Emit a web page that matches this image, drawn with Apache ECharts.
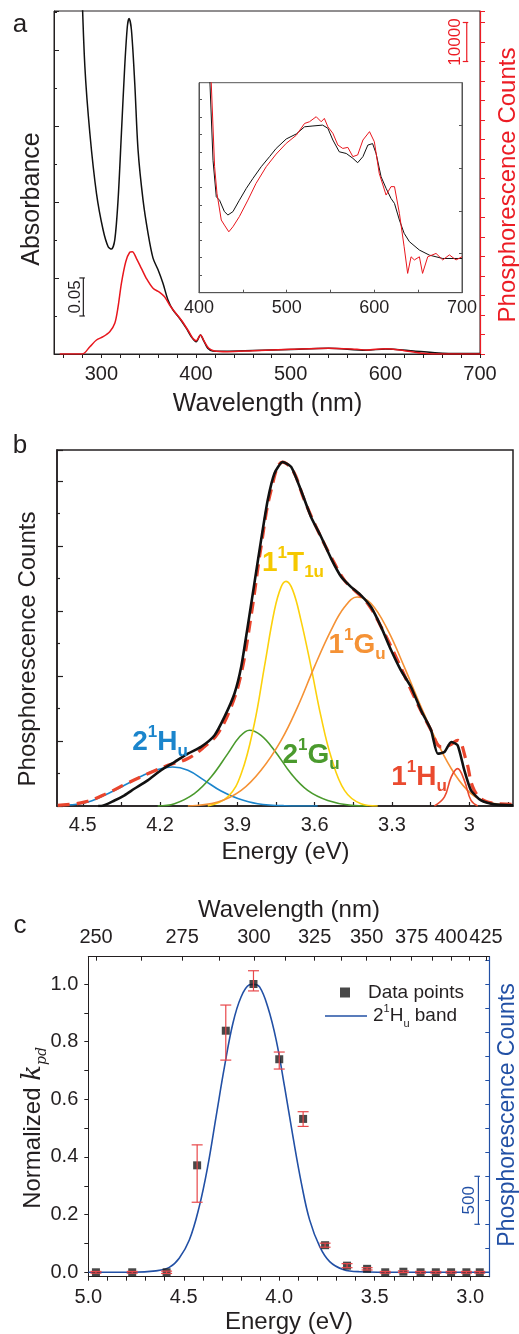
<!DOCTYPE html>
<html>
<head>
<meta charset="utf-8">
<script src="https://cdn.jsdelivr.net/npm/echarts@6/dist/echarts.min.js"></script>
<style>
  html, body { margin: 0; padding: 0; background: #fff; }
  #chart { width: 519px; height: 1334px; }
</style>
</head>
<body>
<div id="chart"></div>
<script>
// ---- panel a: absorbance (black, left) + phosphorescence (red, right) ----
const absWl = [279, 282.6, 287.9, 294.9, 301.9, 307.2, 310.7, 314.2, 317.7, 321.2, 324.7, 327.5, 329.3, 331.8, 335.3, 338.8, 344, 349.3, 354.6, 359.8, 365.1, 370.4, 375.6, 382.6, 389.7, 394.9, 400.2, 404.7, 407.9, 412.4, 417.7, 432, 460, 500, 540, 580, 600, 630, 660, 700];
const absVal = [0.5, 0.378, 0.29, 0.211, 0.163, 0.141, 0.138, 0.15, 0.203, 0.29, 0.378, 0.431, 0.441, 0.426, 0.356, 0.268, 0.203, 0.159, 0.126, 0.111, 0.093, 0.071, 0.058, 0.047, 0.034, 0.023, 0.016, 0.025, 0.018, 0.0075, 0.004, 0.0035, 0.0045, 0.006, 0.0075, 0.005, 0.0065, 0.004, 0.001, 0.0005];
const phosWl = [256, 270, 280, 287.9, 294.9, 301.9, 308.9, 314.2, 317.7, 321.2, 325.8, 330, 332.8, 337, 342.3, 347.5, 354.6, 361.6, 366.8, 372.1, 377.4, 384.4, 391.4, 396.6, 400.2, 404.7, 408.9, 413.5, 419.5, 433, 460, 500, 540, 570, 580, 600, 620, 640, 650, 700];
const phosCounts = [0, 0, 0, 1880, 3590, 4440, 5720, 7870, 12130, 18130, 23670, 26080, 26230, 24540, 21970, 19410, 16850, 15820, 14690, 12560, 10850, 8720, 6150, 4030, 3410, 4870, 3160, 1460, 770, 600, 850, 1200, 1460, 1200, 1030, 1370, 860, 170, 0, 0];

// inset (arbitrary units, 0-100)
const insetBlackWl = [412, 416, 419.7, 423.5, 429, 433, 438.7, 446, 454, 461.5, 471, 480.5, 488, 499.5, 511, 520.4, 530, 541, 547, 552.7, 560, 568, 575.5, 581, 587, 592.6, 598, 602, 607.7, 613.4, 619, 623, 628.6, 634, 640, 651.4, 662.8, 678, 700];
const insetBlackVal = [105, 63, 45.7, 44, 38.6, 37, 38.6, 44, 49.7, 54.4, 60, 64.8, 68.7, 73.2, 75.6, 79, 79.4, 79.8, 78.3, 72.7, 67.1, 66.3, 64, 61.9, 64.8, 70.3, 71, 66.3, 55.2, 49.7, 44.9, 42.5, 34.6, 28.3, 24.3, 20.3, 17.9, 16.3, 16.3];
const insetRedWl = [413.5, 417.8, 420.5, 425.4, 429, 434, 438.7, 446, 455.8, 465, 476.7, 488, 499.5, 511, 520.4, 526, 533.7, 539.4, 543, 547, 552.7, 558.4, 564, 569.8, 575.5, 581, 587, 594.5, 600, 605.6, 613.4, 619, 623, 628.6, 634, 638, 641.9, 645.7, 651.4, 655, 660.9, 670.4, 678, 685.6, 693.2, 700];
const insetRedVal = [105, 60, 47.3, 34.6, 32.2, 29, 31.4, 36.2, 44.1, 52, 60, 66, 71.1, 75, 80.6, 81.4, 83.8, 81.4, 83, 79, 75.9, 70.3, 68.7, 69.2, 64.8, 65.6, 72.7, 76.7, 71.9, 56.8, 46.5, 50.5, 50.5, 37.8, 21.9, 9.2, 17.1, 15.6, 17.1, 9.2, 17.1, 18.7, 15.6, 18, 15.6, 17.1];

// ---- panel b: spectrum vs energy and gaussian components ----
const bDataE = [4.44, 4.429, 4.377, 4.338, 4.3, 4.248, 4.196, 4.144, 4.092, 4.041, 3.989, 3.95, 3.911, 3.885, 3.86, 3.834, 3.808, 3.782, 3.756, 3.724, 3.691, 3.653, 3.614, 3.575, 3.536, 3.497, 3.459, 3.42, 3.381, 3.342, 3.303, 3.265, 3.226, 3.187, 3.148, 3.122, 3.096, 3.07, 3.045, 3.019, 2.993, 2.954, 2.902, 2.83];
const bDataV = [0, 0, 0.17, 0.33, 0.53, 0.79, 1.10, 1.35, 1.61, 1.82, 2.17, 2.74, 3.46, 4.28, 5.51, 6.84, 8.17, 9.41, 10.23, 10.58, 10.43, 9.71, 8.89, 8.28, 7.61, 7.05, 6.74, 6.48, 6.12, 5.51, 4.79, 4.17, 3.66, 2.94, 2.33, 1.61, 1.66, 1.97, 1.87, 1.10, 0.48, 0.17, 0.05, 0.02];
const fitE = [4.597, 4.494, 4.403, 4.325, 4.248, 4.17, 4.092, 4.028, 3.976, 3.924, 3.885, 3.847, 3.808, 3.769, 3.724, 3.685, 3.64, 3.588, 3.536, 3.484, 3.446, 3.394, 3.342, 3.278, 3.213, 3.148, 3.109, 3.077, 3.045, 3.012, 2.98, 2.928, 2.83];
const fitV = [0.02, 0.12, 0.40, 0.71, 0.99, 1.25, 1.46, 1.82, 2.23, 3.05, 4.07, 5.82, 7.97, 9.71, 10.58, 10.33, 9.41, 8.48, 7.66, 6.94, 6.64, 6.23, 5.51, 4.48, 3.35, 2.33, 1.82, 1.87, 2.02, 1.41, 0.48, 0.12, 0.05];
const h2E = [4.597, 4.494, 4.403, 4.325, 4.261, 4.209, 4.151, 4.092, 4.028, 3.963, 3.898, 3.821, 3.717, 3.588];
const h2V = [0.02, 0.09, 0.38, 0.69, 0.96, 1.12, 1.20, 1.10, 0.79, 0.46, 0.23, 0.07, 0.01, 0];
const g2E = [4.209, 4.144, 4.067, 4.002, 3.937, 3.892, 3.853, 3.808, 3.756, 3.691, 3.627, 3.549, 3.459, 3.394];
const g2V = [0, 0.07, 0.38, 0.89, 1.61, 2.12, 2.33, 2.17, 1.71, 0.99, 0.48, 0.17, 0.02, 0];
const t1E = [4.015, 3.937, 3.885, 3.834, 3.795, 3.756, 3.73, 3.711, 3.685, 3.653, 3.614, 3.575, 3.536, 3.484, 3.42, 3.355];
const t1V = [0, 0.28, 0.99, 2.53, 4.28, 6.02, 6.74, 6.91, 6.64, 5.71, 4.28, 2.74, 1.51, 0.48, 0.07, 0];
const g1E = [4.092, 3.976, 3.885, 3.808, 3.73, 3.666, 3.601, 3.536, 3.484, 3.435, 3.381, 3.316, 3.252, 3.187, 3.122, 3.057, 2.993, 2.928, 2.83];
const g1V = [0, 0.12, 0.48, 1.10, 2.02, 3.05, 4.28, 5.41, 6.12, 6.43, 6.23, 5.41, 4.28, 3.05, 1.92, 0.99, 0.38, 0.12, 0.02];
const h1E = [3.135, 3.096, 3.07, 3.045, 3.019, 2.993, 2.967];
const h1V = [0, 0.28, 0.89, 1.15, 0.79, 0.17, 0];

// ---- panel c: normalized k_pd vs energy, 2(1)Hu band ----
const kpdEnergy = [4.96, 4.77, 4.59, 4.43, 4.28, 4.135, 4.0, 3.875, 3.76, 3.645, 3.54, 3.445, 3.35, 3.26, 3.18, 3.1, 3.02, 2.95];
const kpdValue = [0, 0, 0, 0.371, 0.838, 1.0, 0.739, 0.532, 0.094, 0.023, 0.012, 0, 0.002, 0, 0, 0, 0, 0];
const kpdLow = [-0.003, -0.003, -0.004, 0.243, 0.736, 0.976, 0.705, 0.506, 0.087, 0.016, 0.008, -0.003, -0.001, -0.003, -0.003, -0.003, -0.003, -0.003];
const kpdHigh = [0.003, 0.003, 0.004, 0.442, 0.927, 1.046, 0.764, 0.557, 0.101, 0.030, 0.016, 0.003, 0.005, 0.003, 0.003, 0.003, 0.003, 0.003];
const bandEnergy = [5.0, 4.77, 4.646, 4.576, 4.524, 4.471, 4.419, 4.375, 4.331, 4.287, 4.243, 4.2, 4.156, 4.135, 4.103, 4.06, 4.016, 3.972, 3.928, 3.884, 3.841, 3.788, 3.736, 3.666, 3.578, 3.368, 2.9];
const bandCounts = [0, 0, 15, 51, 147, 336, 684, 1098, 1620, 2139, 2592, 2868, 2995, 3000, 2973, 2763, 2418, 1932, 1410, 927, 546, 267, 111, 30, 6, 0, 0];
const wavelengthLabels = [250, 275, 300, 325, 350, 375, 400, 425];

const FONT = 'Liberation Sans, Arial, Helvetica, sans-serif';
const INK = '#231f20';
const RED = '#ec1c24';
const BLUE_C = '#2250a5';

const zip = (xs, ys) => xs.map((x, i) => [x, ys[i]]);
const steps = (a, b, s) => { const out = []; for (let v = a; v <= b + 1e-9; v += s) out.push(+v.toFixed(4)); return out; };
const toEnergy = (nm) => 1239.84 / nm;

const chart = echarts.init(document.getElementById('chart'), null, { renderer: 'canvas' });

function line(name, x, y, data, color, width, extra) {
  return Object.assign({
    name, type: 'line', xAxisIndex: x, yAxisIndex: y, data,
    showSymbol: false, symbol: 'none', smooth: 0.3,
    lineStyle: { color, width }, itemStyle: { color }, animation: false, clip: true
  }, extra || {});
}

// vertical scale bar with caps and a rotated label, placed in data units
function scaleBar(x, y, data, color, label, textOffset) {
  return {
    type: 'custom', xAxisIndex: x, yAxisIndex: y, data, silent: true, z: 5,
    renderItem(params, api) {
      const lo = api.coord([api.value(0), api.value(1)]);
      const hi = api.coord([api.value(0), api.value(2)]);
      const st = { stroke: color, lineWidth: 1.2 };
      return { type: 'group', children: [
        { type: 'line', shape: { x1: lo[0], y1: lo[1], x2: hi[0], y2: hi[1] }, style: st },
        { type: 'line', shape: { x1: lo[0] - 4, y1: lo[1], x2: lo[0] + 1.5, y2: lo[1] }, style: st },
        { type: 'line', shape: { x1: hi[0] - 4, y1: hi[1], x2: hi[0] + 1.5, y2: hi[1] }, style: st },
        { type: 'text', x: lo[0] + textOffset, y: (lo[1] + hi[1]) / 2, rotation: Math.PI / 2,
          style: { text: label, fill: color, font: '17px ' + FONT, align: 'center', verticalAlign: 'middle' } }
      ] };
    }
  };
}

function text(str, x, y, opts) {
  opts = opts || {};
  return {
    type: 'text', x, y, rotation: opts.rotate ? Math.PI / 2 : 0, z: 10,
    style: Object.assign({
      text: str, fill: opts.color || INK, fontFamily: FONT, fontSize: opts.size || 24,
      fontWeight: opts.weight || 'normal', align: 'center', verticalAlign: 'middle'
    }, opts.style || {})
  };
}

function richState(str, x, y, color) {
  return {
    type: 'text', x, y, z: 10,
    style: {
      text: str, fill: color, fontFamily: FONT, fontSize: 28, fontWeight: 'bold',
      align: 'center', verticalAlign: 'middle', lineHeight: 36,
      rich: {
        b: { fill: color, fontFamily: FONT, fontSize: 28, fontWeight: 'bold', lineHeight: 36 },
        sup: { fill: color, fontFamily: FONT, fontSize: 17, fontWeight: 'bold', lineHeight: 17, verticalAlign: 'top' },
        sub: { fill: color, fontFamily: FONT, fontSize: 17, fontWeight: 'bold', lineHeight: 17, verticalAlign: 'bottom' }
      }
    }
  };
}

const tickLabel = { color: INK, fontFamily: FONT, fontSize: 20 };

const option = {
  backgroundColor: '#fff',
  animation: false,
  grid: [
    { left: 54, top: 11, width: 426, height: 343, show: true, borderColor: INK, borderWidth: 1 },
    { left: 199, top: 82.7, width: 263, height: 210, show: true, borderColor: '#555', borderWidth: 1, backgroundColor: 'transparent' },
    { left: 57, top: 450, width: 456, height: 356, show: true, borderColor: INK, borderWidth: 1.5 },
    { left: 88.3, top: 956.7, width: 401, height: 320 }
  ],
  xAxis: [
    { gridIndex: 0, type: 'value', min: 250, max: 700,
      axisLine: { onZero: false, lineStyle: { color: INK } },
      axisTick: { inside: false, length: 4, customValues: steps(260, 700, 20), lineStyle: { color: INK } },
      axisLabel: Object.assign({ margin: 10, customValues: [300, 400, 500, 600, 700] }, tickLabel),
      splitLine: { show: false } },
    { gridIndex: 1, type: 'value', min: 400, max: 700,
      axisLine: { onZero: false, lineStyle: { color: '#555' } },
      axisTick: { inside: true, length: 3, customValues: steps(450, 650, 50), lineStyle: { color: '#555' } },
      axisLabel: Object.assign({}, tickLabel, { fontSize: 18, margin: 6, customValues: [400, 500, 600, 700] }),
      splitLine: { show: false } },
    { gridIndex: 2, type: 'value', min: 2.83, max: 4.6, inverse: true,
      axisLine: { onZero: false, lineStyle: { color: INK, width: 1.5 } },
      axisTick: { inside: true, length: 4, customValues: steps(2.85, 4.5, 0.15), lineStyle: { color: INK, width: 1.2 } },
      axisLabel: Object.assign({ margin: 9, customValues: [4.5, 4.2, 3.9, 3.6, 3.3, 3.0] }, tickLabel),
      splitLine: { show: false } },
    { gridIndex: 3, type: 'value', min: 2.9, max: 5.0, inverse: true, position: 'bottom',
      axisLine: { onZero: false, lineStyle: { color: INK } },
      axisTick: { inside: false, length: 4, customValues: steps(3.0, 5.0, 0.1), lineStyle: { color: INK } },
      axisLabel: Object.assign({ margin: 11, customValues: [5.0, 4.5, 4.0, 3.5, 3.0], formatter: v => v.toFixed(1) }, tickLabel),
      splitLine: { show: false } },
    { gridIndex: 3, type: 'value', min: 2.9, max: 5.0, inverse: true, position: 'top',
      axisLine: { onZero: false, lineStyle: { color: INK } },
      axisTick: { inside: true, length: 4, customValues: steps(250, 425, 12.5).map(toEnergy), lineStyle: { color: INK } },
      axisLabel: Object.assign({ margin: 9, customValues: wavelengthLabels.map(toEnergy), formatter: v => String(Math.round(1239.84 / v)) }, tickLabel),
      splitLine: { show: false } }
  ],
  yAxis: [
    { gridIndex: 0, type: 'value', min: 0, max: 0.451, interval: 0.1,
      axisLine: { onZero: false, lineStyle: { color: INK } },
      axisTick: { inside: true, length: 5, lineStyle: { color: INK } },
      minorTick: { show: true, splitNumber: 2, length: 3, lineStyle: { color: INK } },
      axisLabel: { show: false }, splitLine: { show: false }, minorSplitLine: { show: false } },
    { gridIndex: 0, type: 'value', position: 'right', min: 0, max: 87950, interval: 5000,
      axisLine: { show: true, onZero: false, lineStyle: { color: RED, width: 1.2 } },
      axisTick: { inside: false, length: 5, lineStyle: { color: RED } },
      axisLabel: { show: false }, splitLine: { show: false } },
    { gridIndex: 1, type: 'value', min: 0, max: 100,
      axisLine: { onZero: false, lineStyle: { color: '#555' } },
      axisTick: { inside: true, length: 3, customValues: steps(8.4, 95, 8.37), lineStyle: { color: '#555' } },
      axisLabel: { show: false }, splitLine: { show: false } },
    { gridIndex: 1, type: 'value', position: 'right', min: 0, max: 100,
      axisLine: { show: true, onZero: false, lineStyle: { color: '#555' } },
      axisTick: { inside: true, length: 3, customValues: [18.6, 38.9, 59.2, 79.5], lineStyle: { color: '#555' } },
      axisLabel: { show: false }, splitLine: { show: false } },
    { gridIndex: 2, type: 'value', min: 0, max: 10.95, interval: 2,
      axisLine: { onZero: false, lineStyle: { color: INK, width: 1.5 } },
      axisTick: { inside: true, length: 6, lineStyle: { color: INK, width: 1.2 } },
      minorTick: { show: true, splitNumber: 2, length: 3, lineStyle: { color: INK, width: 1.2 } },
      axisLabel: { show: false }, splitLine: { show: false }, minorSplitLine: { show: false } },
    { gridIndex: 3, type: 'value', min: -0.0153, max: 1.0947,
      axisLine: { onZero: false, lineStyle: { color: INK } },
      axisTick: { inside: false, length: 4, customValues: steps(0, 1.0, 0.1), lineStyle: { color: INK } },
      axisLabel: Object.assign({ margin: 10, customValues: [0, 0.2, 0.4, 0.6, 0.8, 1.0], formatter: v => v.toFixed(1) }, tickLabel),
      splitLine: { show: false } },
    { gridIndex: 3, type: 'value', position: 'right', min: -46, max: 3288,
      axisLine: { show: true, onZero: false, lineStyle: { color: BLUE_C, width: 1.2 } },
      axisTick: { inside: true, length: 4, customValues: steps(0, 3250, 250), lineStyle: { color: BLUE_C } },
      axisLabel: { show: false }, splitLine: { show: false } }
  ],
  legend: [
    { data: ['Data points'], left: 335, top: 978, itemWidth: 10, itemHeight: 10, selectedMode: false,
      textStyle: { color: INK, fontFamily: FONT, fontSize: 19, padding: [0, 0, 0, 13] } },
    { data: [{ name: 'band', icon: 'rect' }], left: 320, top: 998, itemWidth: 42, itemHeight: 1.6, selectedMode: false,
      formatter: () => '2{sup|1}H{sub|u} band',
      textStyle: { color: INK, fontFamily: FONT, fontSize: 19, lineHeight: 26, padding: [0, 0, 0, 1],
        rich: { sup: { fontSize: 11, lineHeight: 11, verticalAlign: 'top', color: INK, fontFamily: FONT },
                sub: { fontSize: 11, lineHeight: 11, verticalAlign: 'bottom', color: INK, fontFamily: FONT } } } }
  ],
  series: [
    // panel a
    line('absorbance', 0, 0, zip(absWl, absVal), '#111', 1.5),
    line('phosphorescence', 0, 1, zip(phosWl, phosCounts), '#e8161d', 1.5),
    scaleBar(0, 0, [[281, 0.05, 0.1]], INK, '0.05', -8),
    scaleBar(0, 1, [[686, 75000, 85000]], RED, '10000', -11),
    // inset
    line('inset absorbance', 1, 2, zip(insetBlackWl, insetBlackVal), '#111', 1, { smooth: false }),
    line('inset phosphorescence', 1, 2, zip(insetRedWl, insetRedVal), '#e8161d', 1, { smooth: false }),
    // panel b
    line('2Hu', 2, 4, zip(h2E, h2V), '#1b85cc', 1.6, { smooth: 0.4 }),
    line('2Gu', 2, 4, zip(g2E, g2V), '#4a9a2d', 1.6, { smooth: 0.4 }),
    line('1T1u', 2, 4, zip(t1E, t1V), '#fcd10c', 1.6, { smooth: 0.4 }),
    line('1Gu', 2, 4, zip(g1E, g1V), '#f59235', 1.6, { smooth: 0.4 }),
    line('1Hu', 2, 4, zip(h1E, h1V), '#ea4a2f', 1.6, { smooth: 0.4 }),
    line('fit', 2, 4, zip(fitE, fitV), '#e9452d', 3.2, { smooth: 0.4, lineStyle: { color: '#e9452d', width: 3.2, type: [12, 7] } }),
    line('spectrum', 2, 4, zip(bDataE, bDataV), '#111', 2.6, { smooth: 0.2 }),
    // panel c
    line('band', 3, 6, zip(bandEnergy, bandCounts), BLUE_C, 1.6, { smooth: 0.4 }),
    { name: 'Data points', type: 'scatter', xAxisIndex: 3, yAxisIndex: 5, symbol: 'rect', symbolSize: 8,
      itemStyle: { color: '#1a1a1a' }, data: zip(kpdEnergy, kpdValue), z: 3 },
    { name: 'error', type: 'custom', xAxisIndex: 3, yAxisIndex: 5, z: 4, silent: true,
      data: kpdEnergy.map((e, i) => [e, kpdLow[i], kpdHigh[i]]),
      renderItem(params, api) {
        const lo = api.coord([api.value(0), api.value(1)]);
        const hi = api.coord([api.value(0), api.value(2)]);
        const w = 5.5, st = { stroke: '#e8474a', lineWidth: 1.2 };
        return { type: 'group', children: [
          { type: 'line', shape: { x1: lo[0], y1: lo[1], x2: hi[0], y2: hi[1] }, style: st },
          { type: 'line', shape: { x1: lo[0] - w, y1: lo[1], x2: lo[0] + w, y2: lo[1] }, style: st },
          { type: 'line', shape: { x1: hi[0] - w, y1: hi[1], x2: hi[0] + w, y2: hi[1] }, style: st }
        ] };
      } },
    scaleBar(3, 6, [[2.957, 500, 1000]], BLUE_C, '500', -9.5)
  ],
  graphic: [
    // panel letters
    text('a', 20, 25, { size: 26 }),
    text('b', 20, 446, { size: 26 }),
    text('c', 20, 926, { size: 26 }),
    // panel a titles
    text('Wavelength (nm)', 267.5, 404, { size: 25 }),
    text('Absorbance', 32, 199, { size: 25, rotate: true }),
    text('Phosphorescence Counts', 508, 185, { size: 24, rotate: true, color: RED }),
    // panel b titles and state labels
    text('Phosphorescence Counts', 28.5, 649, { size: 24, rotate: true }),
    text('Energy (eV)', 285.5, 852, { size: 24 }),
    richState('{b|2}{sup|1}{b|H}{sub|u}', 160, 742, '#1b85cc'),
    richState('{b|1}{sup|1}{b|T}{sub|1u}', 293, 563, '#f5c800'),
    richState('{b|1}{sup|1}{b|G}{sub|u}', 357, 645, '#f59235'),
    richState('{b|2}{sup|1}{b|G}{sub|u}', 311, 755, '#4a9a2d'),
    richState('{b|1}{sup|1}{b|H}{sub|u}', 419, 777, '#ea4a2f'),
    // panel c titles
    text('Wavelength (nm)', 289, 910, { size: 24 }),
    text('Energy (eV)', 289, 1322, { size: 24 }),
    { type: 'text', x: 33, y: 1128, rotation: Math.PI / 2, z: 10,
      style: { text: 'Normalized {k|k}{pd|pd}', fill: INK, fontFamily: FONT, fontSize: 24, lineHeight: 32,
        align: 'center', verticalAlign: 'middle',
        rich: { k: { fontFamily: 'DejaVu Serif', fontStyle: 'italic', fontSize: 26, lineHeight: 32, fill: INK },
                pd: { fontFamily: 'DejaVu Serif', fontStyle: 'italic', fontSize: 14, lineHeight: 14, verticalAlign: 'bottom', fill: INK } } } },
    text('Phosphorescence Counts', 508, 1115, { size: 23, rotate: true, color: BLUE_C })
  ]
};

chart.setOption(option);
window.addEventListener('resize', () => chart.resize());
</script>
</body>
</html>
